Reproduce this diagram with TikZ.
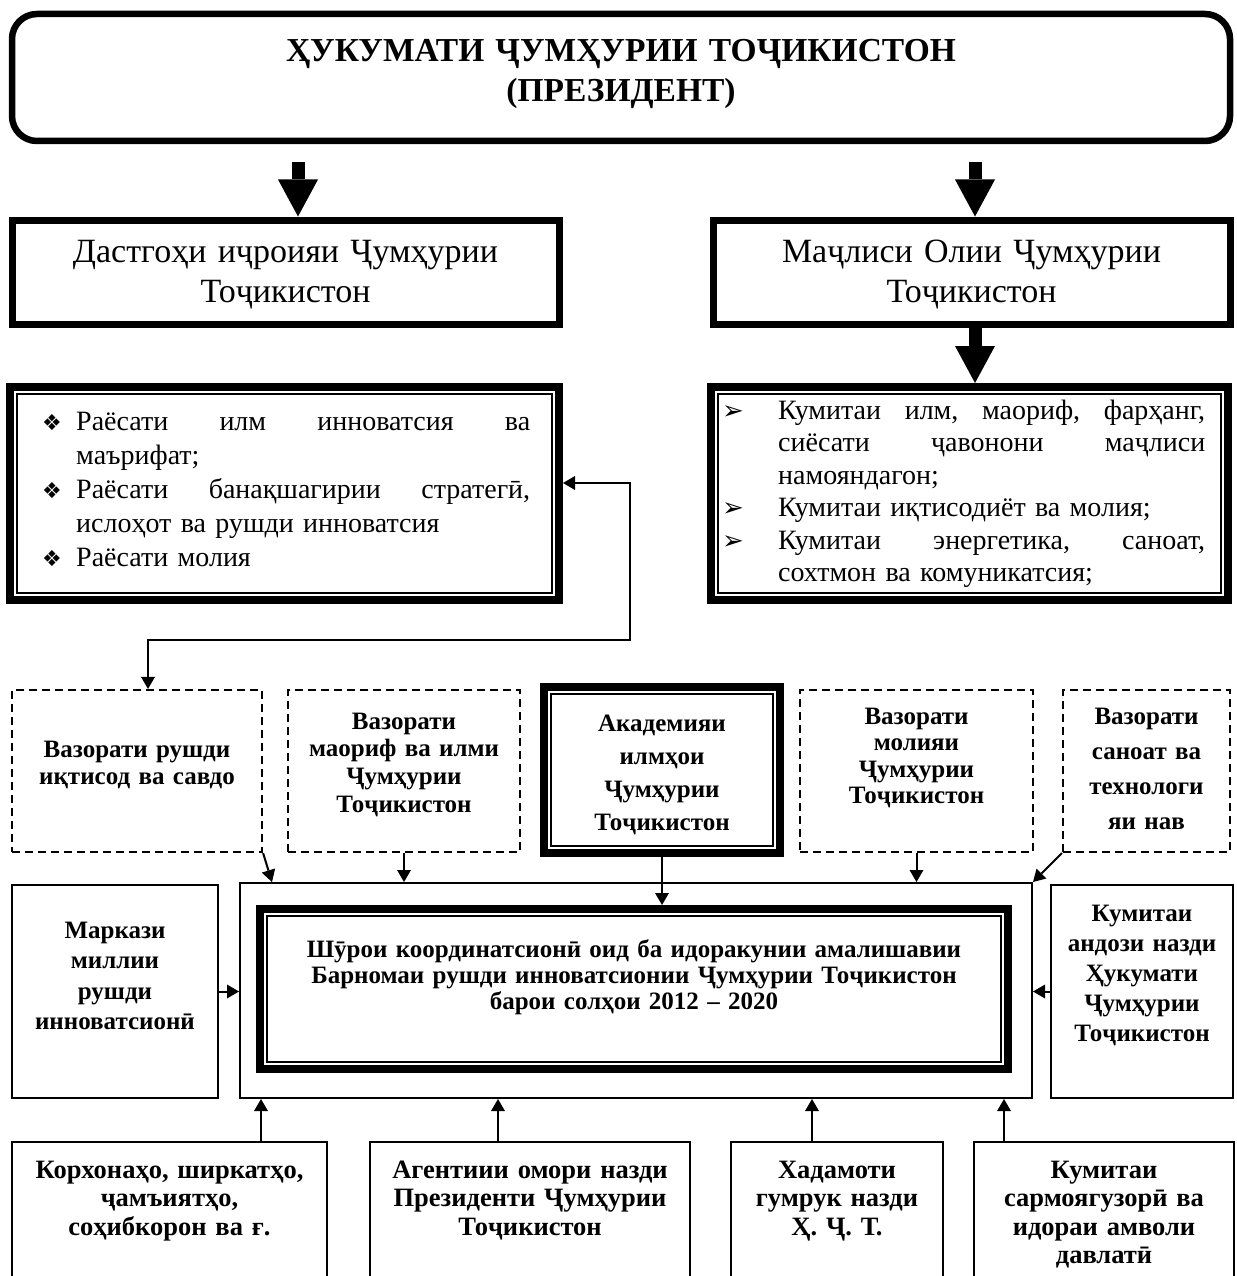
\documentclass[tikz,border=0pt]{standalone}
\usepackage{fontspec}
\setmainfont{Liberation Serif}
\newfontfamily\dingfont{DejaVu Sans}
\usetikzlibrary{arrows.meta,calc}
\tikzset{
  boxframe/.style={draw, inner sep=0pt, line width=#1},
  thinframe/.style={boxframe=2pt},
  thickframe/.style={boxframe=7pt},
  dblframe/.style={boxframe=8pt},
  dashframe/.style={boxframe=2.2pt, dash pattern=on 8pt off 5pt},
  innerline/.style={line width=1.5pt},
  txt/.style={inner sep=0pt, anchor=base, align=center, text width=#1},
  boldtext/.style={font=\bfseries\fontsize{25}{#1}\selectfont},
  bottomtext/.style={font=\bfseries\fontsize{26.5}{#1}\selectfont},
  listtext/.style 2 args={inner sep=0pt, anchor=base west, align=left, text width=#1, font=\fontsize{28}{#2}\selectfont},
  bigarrow/.style={line width=13pt, -{Triangle[length=37pt,width=40pt,line width=0pt]}},
  conn/.style={line width=2pt, -{Triangle[length=12pt,width=14pt,line width=0pt]}},
  dconn/.style={line width=2pt, {Triangle[length=12pt,width=14pt,line width=0pt]}-{Triangle[length=12pt,width=14pt,line width=0pt]}},
}
\newcommand{\dia}{\makebox[34pt][l]{\dingfont\fontsize{22}{22}\selectfont ❖}}
\newcommand{\arr}{\makebox[56pt][l]{\dingfont\fontsize{26}{26}\selectfont ➢}}
\begin{document}
\begin{tikzpicture}[x=1pt,y=-1pt]
\useasboundingbox (0,0) rectangle (1236,1276);
% top
\node[boxframe=6.5pt, rounded corners=25pt, minimum width=1218pt, minimum height=127pt] (top) at (621,77.5) {};
\node[txt=1100pt, font=\bfseries\fontsize{33.5}{40}\selectfont] (toptext) at (621,62) {ҲУКУМАТИ ҶУМҲУРИИ ТОҶИКИСТОН\\(ПРЕЗИДЕНТ)};
% second row
\node[thickframe, minimum width=547pt, minimum height=104pt] (dast) at (285.5,272) {};
\node[txt=540pt, font=\fontsize{34}{40}\selectfont] (dasttext) at (285.5,262) {Дастгоҳи иҷроияи Ҷумҳурии\\Тоҷикистон};
\node[thickframe, minimum width=517pt, minimum height=104pt] (majl) at (971.5,272) {};
\node[txt=510pt, font=\fontsize{34}{40}\selectfont] (majltext) at (971.5,262) {Маҷлиси Олии Ҷумҳурии\\Тоҷикистон};
% lists
\node[dblframe, minimum width=549pt, minimum height=213pt] (llist) at (284.5,493.5) {};
\draw[innerline] ($(llist.north west)+(11,11)$) rectangle ($(llist.south east)+(-11,-11)$);
\node[listtext={500pt}{34pt}] (lltext) at (42,430)
 {\dia\hbox to 454pt{Раёсати\hfill илм\hfill инноватсия\hfill ва}\\
  \hspace*{34pt}маърифат;\\
  \dia\hbox to 454pt{Раёсати\hfill банақшагирии\hfill стратегӣ,}\\
  \hspace*{34pt}ислоҳот ва рушди инноватсия\\
  \dia Раёсати молия};
\node[dblframe, minimum width=517pt, minimum height=213pt] (rlist) at (969.5,493.5) {};
\draw[innerline] ($(rlist.north west)+(11,11)$) rectangle ($(rlist.south east)+(-11,-11)$);
\node[listtext={490pt}{32.5pt}] (rltext) at (722,419)
 {\arr\hbox to 427pt{Кумитаи\hfill илм,\hfill маориф,\hfill фарҳанг,}\\
  \hspace*{56pt}\hbox to 427pt{сиёсати\hfill ҷавонони\hfill маҷлиси}\\
  \hspace*{56pt}намояндагон;\\
  \arr Кумитаи иқтисодиёт ва молия;\\
  \arr\hbox to 427pt{Кумитаи\hfill энергетика,\hfill саноат,}\\
  \hspace*{56pt}сохтмон ва комуникатсия;};
% middle row
\node[dashframe, minimum width=250pt, minimum height=162pt] (boxA) at (137,771) {};
\node[txt=240pt, boldtext=27.5pt] (boxAtext) at (137,757) {Вазорати рушди\\иқтисод ва савдо};
\node[dashframe, minimum width=232pt, minimum height=162pt] (boxB) at (404,771) {};
\node[txt=225pt, boldtext=27.7pt] (boxBtext) at (404,729) {Вазорати\\маориф ва илми\\Ҷумҳурии\\Тоҷикистон};
\node[dblframe, minimum width=236pt, minimum height=166pt] (acad) at (662,770) {};
\draw[innerline] ($(acad.north west)+(11,11)$) rectangle ($(acad.south east)+(-11,-11)$);
\node[txt=210pt, boldtext=33pt] (acadtext) at (662,731) {Академияи\\илмҳои\\Ҷумҳурии\\Тоҷикистон};
\node[dashframe, minimum width=233pt, minimum height=162pt] (boxD) at (916.5,771) {};
\node[txt=225pt, boldtext=26.5pt] (boxDtext) at (916.5,724) {Вазорати\\молияи\\Ҷумҳурии\\Тоҷикистон};
\node[dashframe, minimum width=167pt, minimum height=162pt] (boxE) at (1146.5,771) {};
\node[txt=160pt, boldtext=35pt] (boxEtext) at (1146.5,724) {Вазорати\\саноат ва\\технологи\\яи нав};
% central
\node[thinframe, minimum width=792pt, minimum height=215pt] (container) at (636,990.5) {};
\node[dblframe, minimum width=748pt, minimum height=160pt] (shuro) at (634,989) {};
\draw[innerline] ($(shuro.north west)+(11,11)$) rectangle ($(shuro.south east)+(-11,-11)$);
\node[txt=720pt, boldtext=26pt] (shurotext) at (634,957) {Шӯрои координатсионӣ оид ба идоракунии амалишавии\\Барномаи рушди инноватсионии Ҷумҳурии Тоҷикистон\\барои солҳои 2012 – 2020};
\node[thinframe, minimum width=206pt, minimum height=213pt] (markazi) at (115,991.5) {};
\node[txt=200pt, boldtext=30.5pt] (markazitext) at (115,938) {Маркази\\миллии\\рушди\\инноватсионӣ};
\node[thinframe, minimum width=182pt, minimum height=213pt] (kumit) at (1142,991.5) {};
\node[txt=178pt, boldtext=30pt] (kumittext) at (1142,921) {Кумитаи\\андози назди\\Ҳукумати\\Ҷумҳурии\\Тоҷикистон};
% bottom row
\node[thinframe, minimum width=315pt, minimum height=178pt] (b1) at (169.5,1231) {};
\node[txt=305pt, bottomtext=28.5pt] (b1text) at (169.5,1178) {Корхонаҳо, ширкатҳо,\\ҷамъиятҳо,\\соҳибкорон ва ғ.};
\node[thinframe, minimum width=320pt, minimum height=178pt] (b2) at (530,1231) {};
\node[txt=310pt, bottomtext=28.5pt] (b2text) at (530,1178) {Агентиии омори назди\\Президенти Ҷумҳурии\\Тоҷикистон};
\node[thinframe, minimum width=212pt, minimum height=178pt] (b3) at (837,1231) {};
\node[txt=205pt, bottomtext=28.5pt] (b3text) at (837,1178) {Хадамоти\\гумрук назди\\Ҳ. Ҷ. Т.};
\node[thinframe, minimum width=260pt, minimum height=178pt] (b4) at (1104,1231) {};
\node[txt=250pt, bottomtext=28.5pt] (b4text) at (1104,1178) {Кумитаи\\сармоягузорӣ ва\\идораи амволи\\давлатӣ};
% block arrows
\coordinate (a1) at ($(dast.north)+(12.5,0)$);
\draw[bigarrow] ($(a1 |- top.south)+(0,18)$) -- (a1);
\coordinate (a2) at ($(majl.north)+(3.5,0)$);
\draw[bigarrow] ($(a2 |- top.south)+(0,18)$) -- (a2);
\coordinate (a3) at ($(majl.south)+(3.5,0)$);
\draw[bigarrow] (a3) -- (a3 |- rlist.north);
% elbow connector
\coordinate (c1) at ($(llist.east)+(0,-10.5)$);
\coordinate (c2) at ($(boxA.north)+(11,0)$);
\draw[dconn] (c1) -- ++(67,0) -- ++(0,157) -| (c2);
% into container
\draw[conn] (boxA.south east) -- ($(container.north west)+(33,0)$);
\draw[conn] (boxB.south) -- (boxB.south |- container.north);
\draw[conn] (acad.south) -- (acad.south |- shuro.north);
\draw[conn] (boxD.south) -- (boxD.south |- container.north);
\draw[conn] (boxE.south west) -- (container.north east);
\draw[conn] (markazi.east) -- (markazi.east -| container.west);
\draw[conn] (kumit.west) -- (kumit.west -| container.east);
\coordinate (p1) at ($(b1.north west)+(250,0)$);
\draw[conn] (p1) -- (p1 |- container.south);
\coordinate (p2) at ($(b2.north west)+(129,0)$);
\draw[conn] (p2) -- (p2 |- container.south);
\coordinate (p3) at ($(b3.north west)+(82,0)$);
\draw[conn] (p3) -- (p3 |- container.south);
\coordinate (p4) at ($(b4.north west)+(31,0)$);
\draw[conn] (p4) -- (p4 |- container.south);
\end{tikzpicture}
\end{document}
